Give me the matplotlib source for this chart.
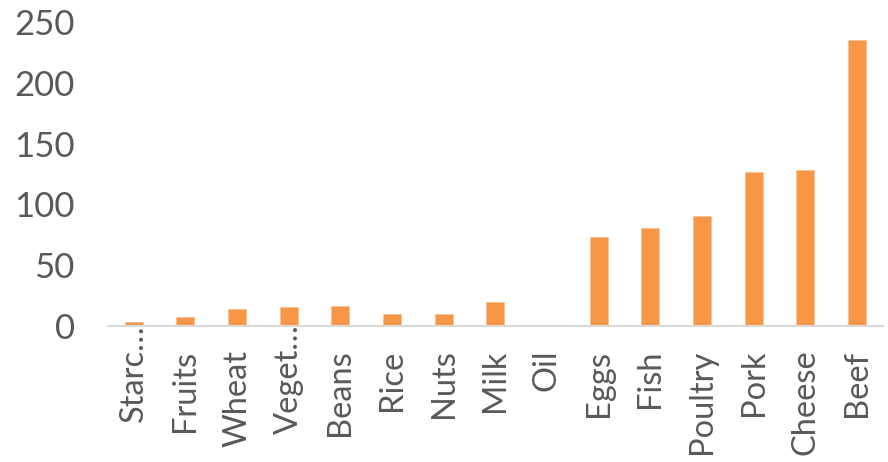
import matplotlib.pyplot as plt
import matplotlib.transforms as mtransforms
import numpy as np

plt.rcParams["font.family"] = ["Lato", "DejaVu Sans"]

foods = ["Starc…", "Fruits", "Wheat", "Veget…", "Beans", "Rice", "Nuts", "Milk",
         "Oil", "Eggs", "Fish", "Poultry", "Pork", "Cheese", "Beef"]
values = [3, 7, 14, 16, 16.5, 9.5, 9.5, 20, 0, 73, 80.5, 90.5, 126.5, 128, 235]
y_ticks = [0, 50, 100, 150, 200, 250]

TEXT = "#595959"
BAR = "#F79646"

fig = plt.figure(figsize=(8.88, 4.62), dpi=100)
ax = fig.add_axes([0.1216, 0.2944, 0.8724, 0.6576])

x = np.arange(len(foods))
ax.bar(x, values, width=0.35, color=BAR, edgecolor="#FAC090", linewidth=0.6, zorder=2)

ax.set_xlim(-0.5, len(foods) - 0.5)
ax.set_ylim(0, 250)
ax.set_yticks(y_ticks)
ax.set_xticks(x)
ax.set_xticklabels(foods, rotation=90)

for side in ["left", "top", "right"]:
    ax.spines[side].set_visible(False)
ax.spines["bottom"].set_color("#D9D9D9")
ax.spines["bottom"].set_linewidth(1.5)
ax.spines["bottom"].set_zorder(3)

ax.tick_params(axis="both", length=0, colors=TEXT)
ax.tick_params(axis="y", labelsize=25, pad=24)
ax.tick_params(axis="x", labelsize=23.5, pad=17)

# truncated names sit tight against the axis line
shift = mtransforms.ScaledTranslation(0, 18 / 72, fig.dpi_scale_trans)
for lbl in ax.get_xticklabels():
    if lbl.get_text().endswith("…"):
        lbl.set_transform(lbl.get_transform() + shift)

fig.savefig("out.png", dpi=100)
